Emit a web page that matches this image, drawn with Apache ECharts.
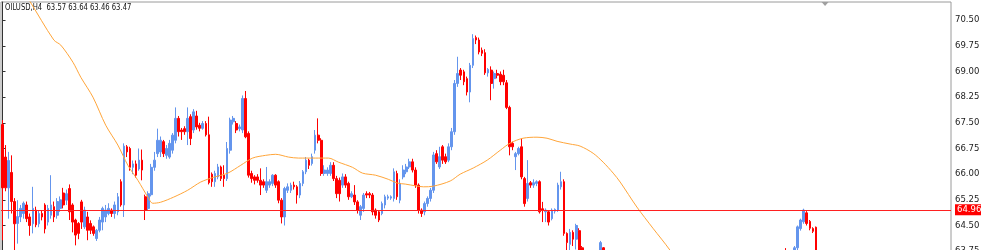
<!DOCTYPE html>
<html><head><meta charset="utf-8">
<script src="https://cdn.jsdelivr.net/npm/echarts@6/dist/echarts.min.js"></script>
<style>html,body{margin:0;padding:0;background:#fff;overflow:hidden}#c{width:981px;height:250px}</style>
</head><body><div id="c"></div>
<script>
// ---- data ----
const symbolName = 'OILUSD,H4';
const lastQuote = ['63.57', '63.64', '63.46', '63.47'];
const slotCount = 313;          // bar slots across the chart (incl. right shift space)
const shiftBar = 271;           // chart shift marker slot
const hLineValue = 64.96;       // horizontal line
const yTicks = [63.75, 64.50, 65.25, 66.00, 66.75, 67.50, 68.25, 69.00, 69.75, 70.50];

// rows: [open, high, low, close]
const ohlc = [
[67.45,67.58,64.07,65.60],[66.50,66.85,65.50,65.60],[65.60,66.65,64.70,66.40],[66.05,66.55,64.85,65.20],[65.20,65.30,63.78,64.55],
[64.56,65.24,63.97,64.76],[64.75,65.10,64.60,65.00],[64.85,65.20,64.70,65.15],[65.10,65.20,64.60,64.70],[64.75,64.85,64.20,64.50],
[64.55,65.63,64.27,65.00],[64.95,65.05,64.45,64.52],[64.55,64.95,64.45,64.85],[64.85,64.95,64.65,64.75],[65.10,65.15,64.27,64.40],
[64.60,65.10,64.50,65.00],[64.80,65.97,64.70,65.10],[65.05,65.20,64.60,64.75],[64.80,65.30,64.70,65.20],[65.00,65.35,64.90,65.25],
[65.45,65.60,65.00,65.10],[65.24,65.55,65.10,65.43],[65.58,65.70,64.66,64.90],[65.10,65.15,64.30,64.60],[64.66,64.70,63.92,64.22],
[64.56,64.60,64.10,64.27],[65.19,65.25,64.40,64.60],[64.46,65.05,64.40,64.95],[64.75,64.90,64.07,64.36],[64.56,64.65,64.25,64.36],
[64.46,64.50,64.20,64.27],[64.12,64.40,64.05,64.36],[64.36,64.75,64.30,64.66],[64.60,65.05,64.36,65.00],[64.75,65.10,64.60,64.95],
[64.85,65.15,64.80,65.00],[64.95,65.00,64.75,64.85],[64.85,65.20,64.70,65.10],[64.90,65.45,64.80,65.34],[65.78,65.85,65.05,65.10],
[65.10,66.90,64.75,66.82],[66.80,66.85,66.50,66.65],[66.75,66.80,66.10,66.20],[66.20,66.40,66.00,66.30],[66.30,66.40,65.90,65.97],
[66.15,66.75,66.10,66.41],[66.41,66.72,65.82,66.12],[65.34,65.40,64.66,64.95],[65.00,65.50,64.95,65.43],[65.40,66.30,65.35,66.20],
[66.20,66.65,66.10,66.41],[66.60,67.33,66.50,66.99],[66.65,67.10,66.50,66.99],[66.95,67.00,66.50,66.60],[66.55,66.85,66.45,66.75],
[66.50,67.00,66.45,66.90],[66.70,67.20,66.60,67.14],[66.99,67.95,66.90,67.63],[67.63,67.70,67.10,67.24],[67.29,67.35,67.00,67.24],
[67.33,67.40,67.15,67.24],[67.24,67.95,66.85,67.63],[67.68,67.75,66.85,67.04],[67.29,67.90,67.20,67.82],[67.70,67.85,67.30,67.38],
[67.43,67.50,67.25,67.34],[67.34,67.55,67.30,67.48],[67.48,67.55,67.10,67.15],[67.15,67.68,65.70,65.75],[66.00,66.05,65.63,65.78],
[65.78,66.10,65.63,66.02],[65.92,66.30,65.85,66.21],[66.21,66.25,65.80,65.87],[65.97,66.26,65.63,65.87],[65.87,66.94,65.80,66.75],
[66.70,67.65,66.60,67.58],[67.53,67.70,67.45,67.63],[67.48,67.55,67.20,67.29],[67.33,67.45,67.25,67.38],[67.29,68.30,67.20,68.21],
[68.21,68.43,67.05,67.09],[67.19,67.25,65.90,65.97],[66.02,66.10,65.75,65.87],[65.92,65.97,65.70,65.82],[65.92,66.00,65.75,65.82],
[65.82,66.17,65.39,65.68],[65.78,65.85,65.60,65.68],[65.53,66.21,65.45,65.78],[65.68,65.85,65.60,65.78],[65.73,66.00,65.65,65.97],
[65.97,66.00,65.60,65.68],[65.78,65.82,65.15,65.24],[65.24,65.30,64.56,64.75],[64.75,65.63,64.50,65.58],[65.53,65.73,65.45,65.63],
[65.53,65.75,65.45,65.68],[65.68,65.78,65.55,65.63],[65.63,65.68,65.14,65.39],[65.39,65.80,65.30,65.73],[65.73,66.12,65.65,66.07],
[66.07,66.50,66.00,66.41],[66.41,66.45,66.15,66.26],[66.31,66.60,66.25,66.51],[66.70,67.29,66.60,67.14],[67.14,67.63,66.90,66.99],
[66.99,67.05,65.95,66.02],[66.02,66.26,65.95,66.12],[66.02,66.20,65.95,66.12],[66.02,66.35,65.95,66.26],[66.26,66.35,65.80,65.87],
[65.87,65.95,65.30,65.43],[65.82,65.90,65.20,65.43],[65.68,66.02,65.60,65.92],[65.92,66.00,65.60,65.68],[65.73,65.78,65.25,65.34],
[65.34,65.50,65.30,65.43],[65.39,65.68,65.10,65.19],[65.19,65.24,64.85,64.95],[64.80,65.10,64.66,65.05],[65.00,65.45,64.90,65.39],
[65.43,65.50,65.30,65.39],[65.43,65.48,65.30,65.39],[65.39,65.45,64.80,64.90],[64.95,65.00,64.70,64.80],[64.90,64.95,64.60,64.66],
[64.85,65.20,64.80,65.14],[65.10,65.40,65.00,65.34],[65.30,65.40,65.25,65.34],[65.30,65.38,65.25,65.34],[65.29,66.17,65.20,66.07],
[66.02,66.10,65.25,65.34],[65.24,65.85,65.15,65.73],[65.92,66.26,65.85,66.12],[66.07,66.30,66.00,66.21],[66.21,66.45,66.15,66.36],
[66.36,66.45,66.05,66.12],[66.12,66.20,65.60,65.68],[65.68,65.73,64.85,64.95],[64.95,65.00,64.75,64.85],[64.90,65.20,64.80,65.14],
[65.14,65.35,65.05,65.29],[65.29,65.60,65.20,65.53],[65.53,66.65,65.45,66.56],[66.60,66.70,66.30,66.36],[66.21,66.80,66.15,66.51],
[66.80,66.85,66.30,66.41],[66.51,66.60,66.30,66.36],[66.41,66.90,66.35,66.80],[66.80,67.35,66.70,67.24],[67.24,68.75,67.15,68.65],
[68.65,69.43,68.55,68.94],[69.04,69.10,68.75,68.89],[68.99,69.05,68.60,68.70],[68.79,68.85,68.30,68.40],[68.40,69.25,68.10,69.18],
[69.18,70.09,69.10,69.96],[69.99,70.05,69.80,69.92],[69.92,69.99,69.50,69.57],[69.62,69.70,69.45,69.53],[69.55,69.65,68.90,68.96],
[68.96,69.10,68.85,69.06],[69.04,69.15,68.16,68.65],[68.79,69.00,68.50,68.94],[68.94,69.05,68.80,68.89],[68.92,69.00,68.60,68.70],
[68.89,69.05,68.60,68.70],[68.67,68.75,67.90,67.95],[67.95,68.00,66.55,66.80],[66.90,66.95,66.70,66.80],[66.51,66.65,66.12,66.60],
[66.60,66.80,66.55,66.75],[66.80,67.04,65.85,65.92],[65.87,65.92,65.05,65.14],[65.29,66.41,65.20,65.73],[65.75,65.80,65.60,65.68],
[65.68,65.85,65.60,65.75],[65.73,65.82,65.65,65.78],[65.78,65.82,64.85,64.90],[64.99,65.19,64.60,64.95],[64.90,65.00,64.60,64.95],
[64.90,64.95,64.50,64.60],[64.70,65.00,64.65,64.95],[64.92,65.00,64.85,64.97],[64.95,65.75,64.90,65.68],[65.63,66.07,65.55,65.78],
[65.78,65.85,64.20,64.27],[64.27,64.30,63.70,64.00],[63.95,64.40,63.60,64.30],[64.30,64.36,63.90,64.10],[64.10,64.55,63.80,64.50],
[64.35,64.42,63.50,63.75],[63.85,63.90,63.30,63.50],[63.50,63.60,63.10,63.30],[63.30,63.60,63.20,63.50],[63.50,63.55,63.00,63.20],
[63.20,63.60,63.10,63.45],[63.45,63.70,63.35,63.60],[63.60,64.05,63.50,64.00],[63.85,63.87,63.40,63.60],[63.60,63.65,63.20,63.30],
[63.30,63.40,62.90,63.00],[63.00,63.30,62.90,63.20],[63.20,63.30,62.70,62.80],[62.80,62.90,62.50,62.60],[62.60,63.00,62.50,62.90],
[62.90,63.00,62.40,62.50],[62.50,62.60,62.20,62.30],[62.30,62.70,62.20,62.60],[62.60,62.90,62.50,62.80],[62.80,62.90,62.30,62.40],
[62.40,62.50,62.00,62.10],[62.10,62.40,62.00,62.30],[62.30,62.40,61.90,62.00],[62.00,62.10,61.70,61.80],[61.80,62.20,61.70,62.10],
[62.10,62.50,62.00,62.40],[62.40,62.50,62.10,62.20],[62.20,62.60,62.10,62.50],[62.50,62.60,61.90,62.00],[62.00,62.10,61.60,61.70],
[61.70,62.00,61.60,61.90],[61.90,62.00,61.50,61.60],[61.60,62.00,61.50,61.90],[61.90,62.30,61.80,62.20],[62.20,62.30,61.90,62.00],
[62.00,62.40,61.90,62.30],[62.30,62.60,62.20,62.50],[62.50,62.60,62.10,62.20],[62.20,62.30,61.80,61.90],[61.90,62.20,61.80,62.10],
[62.10,62.50,62.00,62.40],[62.40,62.50,62.20,62.30],[62.30,62.70,62.20,62.60],[62.60,62.90,62.50,62.80],[62.80,62.90,62.40,62.50],
[62.50,62.80,62.40,62.70],[62.70,62.80,62.30,62.40],[62.40,62.50,62.10,62.20],[62.20,62.60,62.10,62.50],[62.50,62.90,62.40,62.80],
[62.80,63.10,62.70,63.00],[63.00,63.10,62.70,62.80],[62.80,63.20,62.70,63.10],[63.10,63.20,62.80,62.90],[62.90,63.30,62.80,63.20],
[63.20,63.50,63.10,63.40],[63.40,63.50,63.00,63.10],[63.10,63.20,62.80,62.90],[62.90,63.20,62.80,63.10],[63.10,63.40,63.00,63.30],
[63.30,63.40,62.90,63.00],[63.00,63.40,62.90,63.30],[63.30,63.60,63.20,63.50],[63.50,63.60,63.20,63.30],[63.30,63.60,63.20,63.50],
[63.50,63.60,63.20,63.30],[63.30,63.65,63.20,63.55],[63.55,63.75,63.45,63.70],[63.75,63.84,63.40,63.50],[63.50,63.70,63.40,63.60],
[63.60,63.70,63.30,63.40],[63.40,63.90,63.30,63.85],[63.85,64.50,63.75,64.46],[64.41,64.70,64.35,64.66],[64.61,64.99,64.55,64.95],
[64.87,64.92,64.50,64.56],[64.62,64.66,64.36,64.42],[64.41,64.45,64.28,64.33],[64.45,64.47,63.50,63.60],[63.62,63.68,63.50,63.57],
[63.57,63.64,63.46,63.47]
];

// moving average line, read at bar positions
const maIdx = [4.2, 8.8, 16.9, 19.2, 23.2, 25.8, 29.8, 34, 38, 41.3, 44.6, 47.9, 49.5, 52.1, 56.4, 61, 65.3, 69.6, 74.2, 78.5, 82.4, 86.7, 90, 94.2, 97.5, 103.1, 107.4, 110.7, 115.3, 118.6, 122.9, 127.1, 130.1, 132.7, 136, 138.7, 142, 147.5, 150.8, 155.1, 159.7, 164, 167.3, 171.5, 176.1, 179.4, 182.7, 187, 190.3, 194.6, 197.9, 201.2, 203.5, 209, 214.3, 219.9, 224, 230, 240, 250, 260, 270];
const maVal = [71.70, 71.08, 69.92, 69.77, 69.27, 68.83, 68.25, 67.43, 66.85, 66.26, 65.82, 65.33, 65.15, 65.18, 65.33, 65.53, 65.77, 65.91, 66.03, 66.26, 66.47, 66.55, 66.58, 66.50, 66.47, 66.47, 66.47, 66.35, 66.20, 66.03, 65.97, 65.85, 65.74, 65.71, 65.66, 65.63, 65.65, 65.80, 66.00, 66.18, 66.41, 66.70, 66.91, 67.05, 67.08, 67.05, 66.96, 66.88, 66.82, 66.61, 66.35, 66.03, 65.77, 65.04, 64.42, 63.78, 63.20, 62.85, 62.50, 62.35, 62.30, 62.30];

// ---- chart ----
const categories = [];
for (let i = 0; i < slotCount; i++) categories.push(String(i));
const candleData = ohlc.map(r => [r[0], r[3], r[2], r[1]]);
const maData = maIdx.map((x, k) => [x, maVal[k]]);

const chart = echarts.init(document.getElementById('c'), null, {renderer: 'canvas'});
chart.setOption({
  animation: false,
  backgroundColor: '#ffffff',
  grid: {left: 1, top: 2, width: 950, height: 268, outerBoundsMode: 'none', containLabel: false, show: true, borderColor: '#9a9a9a', borderWidth: 1, backgroundColor: '#ffffff'},
  xAxis: [
    {type: 'category', data: categories, show: false, boundaryGap: true},
    {type: 'value', min: -0.5, max: slotCount - 0.5, show: false}
  ],
  yAxis: {
    type: 'value', position: 'right', min: 63.2, max: 71.03, scale: true,
    splitLine: {show: false},
    axisLine: {show: true, lineStyle: {color: '#333333', width: 1}},
    axisTick: {show: true, inside: false, length: 3, customValues: yTicks, lineStyle: {color: '#333333'}},
    axisLabel: {customValues: yTicks, formatter: v => v.toFixed(2), fontSize: 8.5, fontFamily: 'DejaVu Sans', color: '#222222', margin: 4}
  },
  graphic: [{
    type: 'text', x: 5, y: 3, scaleX: 0.72, silent: true,
    style: {text: symbolName + '  ' + lastQuote.join(' '), fontSize: 9.5, fontFamily: 'DejaVu Sans', fill: '#111111', verticalAlign: 'top'}
  }],
  series: [
    {
      type: 'candlestick', xAxisIndex: 0, data: candleData, barWidth: 2.2, clip: true,
      itemStyle: {color: '#6495ed', color0: '#ff0000', borderColor: '#6495ed', borderColor0: '#ff0000', borderWidth: 1},
      markLine: {
        silent: true, symbol: ['none', 'none'], animation: false,
        lineStyle: {color: '#ff2020', width: 1, type: 'solid'},
        label: {show: true, position: 'end', distance: 4, formatter: hLineValue.toFixed(2), color: '#ffffff', backgroundColor: '#ff0000', fontSize: 8.5, fontFamily: 'DejaVu Sans', padding: [1, 2, 1, 2]},
        emphasis: {disabled: true},
        data: [{yAxis: hLineValue}]
      },
      markPoint: {
        silent: true, symbol: 'triangle', symbolRotate: 180, symbolSize: [7, 4], symbolOffset: [0, 2],
        itemStyle: {color: '#a0a0a0'}, label: {show: false},
        data: [{coord: [shiftBar, 71.03]}]
      }
    },
    {
      type: 'line', xAxisIndex: 1, data: maData, showSymbol: false, smooth: 0.3, clip: true,
      lineStyle: {color: '#ffa53a', width: 1}, z: 3
    }
  ]
});
</script>
</body></html>
